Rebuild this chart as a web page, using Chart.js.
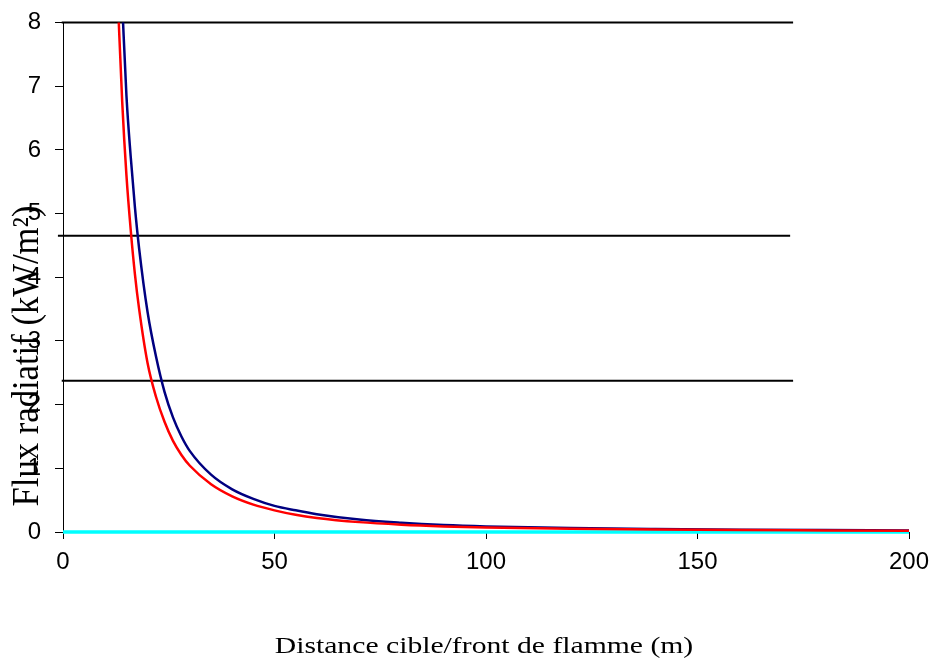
<!DOCTYPE html>
<html>
<head>
<meta charset="utf-8">
<script src="https://cdn.jsdelivr.net/npm/chart.js@4"></script>
<style>
  body { margin: 0; background: #fff; }
  canvas { display: block; }
</style>
</head>
<body>
<canvas id="chart" width="932" height="672"></canvas>
<script>
// distances (m) and radiative flux (kW/m2)
var distRed  = [13, 14, 15, 16, 17, 18, 20, 22, 24, 26, 28, 30, 35, 40, 45, 50, 55, 60, 70, 80, 90, 100, 120, 140, 160, 180, 200];
var fluxRed  = [8.3, 6.75, 5.6, 4.75, 4.05, 3.5, 2.65, 2.12, 1.73, 1.43, 1.21, 1.04, 0.75, 0.56, 0.43, 0.34, 0.27, 0.22, 0.155, 0.115, 0.088, 0.07, 0.05, 0.038, 0.03, 0.025, 0.02];
var distBlue = [14, 15, 16, 17, 18, 20, 22, 24, 26, 28, 30, 35, 40, 45, 50, 55, 60, 70, 80, 90, 100, 120, 140, 160, 180, 200];
var fluxBlue = [8.3, 6.85, 5.9, 5.1, 4.45, 3.45, 2.75, 2.2, 1.8, 1.5, 1.27, 0.9, 0.67, 0.52, 0.41, 0.34, 0.28, 0.195, 0.145, 0.11, 0.088, 0.062, 0.047, 0.037, 0.03, 0.025];

// threshold lines
var hLineY     = [8, 4.65, 2.375];
var hLineStart = [-0.3, -1.2, -0.3];
var hLineEnd   = [172.6, 171.9, 172.6];

// baseline (cyan)
var baseX = [0, 200];
var baseY = [0, 0];

var xTitle = 'Distance cible/front de flamme (m)';
var yTitle = 'Flux radiatif (kW/m\u00b2)';

const canvas = document.getElementById('chart');
var ctx = canvas.getContext('2d');

toPoints = (xs, ys) => xs.map((x, i) => ({x: x, y: ys[i]}));

var datasets = [];

datasets.push({
    data: toPoints(distRed, fluxRed),
    borderColor: '#ff0000',
    borderWidth: 2.5,
    pointRadius: 0,
    cubicInterpolationMode: 'monotone',
    order: 0
});
datasets.push({
    data: toPoints(baseX, baseY),
    borderColor: '#00ffff',
    borderWidth: 3.5,
    pointRadius: 0,
    clip: false,
    order: 1
});
datasets.push({
    data: toPoints(distBlue, fluxBlue),
    borderColor: '#000080',
    borderWidth: 2.5,
    pointRadius: 0,
    cubicInterpolationMode: 'monotone',
    order: 2
});
for (let i = 0; i < hLineY.length; i++) {
    datasets.push({
        data: [{x: hLineStart[i], y: hLineY[i]}, {x: hLineEnd[i], y: hLineY[i]}],
        borderColor: '#000000',
        borderWidth: 2,
        pointRadius: 0,
        clip: false,
        order: 3
    });
}

// axis titles drawn by hand: the original text is stretched and the y title is off-centre
var titlesPlugin = {
    id: 'axisTitles',
    afterDraw: (chart) => {
        let c = chart.ctx;
        c.save();
        c.fillStyle = '#000';
        c.textAlign = 'center';
        c.textBaseline = 'alphabetic';
        c.font = '23px "Liberation Serif", "Times New Roman", serif';
        c.translate(484, 653);
        c.scale(1.29, 1);
        c.fillText(xTitle, 0, 0);
        c.restore();

        c.save();
        c.fillStyle = '#000';
        c.textAlign = 'center';
        c.textBaseline = 'alphabetic';
        c.font = '35px "Liberation Serif", "Times New Roman", serif';
        c.translate(38, 356);
        c.rotate(-Math.PI / 2);
        c.scale(0.99, 1.08);
        c.fillText(yTitle, 0, 0);
        c.restore();
    }
};

var tickFont = { family: '"Liberation Sans", Arial, sans-serif', size: 24 };

var myChart = new Chart(ctx, {
    type: 'line',
    data: { datasets: datasets },
    options: {
        responsive: false,
        animation: false,
        layout: { padding: { top: 22.5, right: 23, left: 0, bottom: 0 } },
        plugins: {
            legend: { display: false },
            tooltip: { enabled: false }
        },
        scales: {
            x: {
                type: 'linear',
                min: 0,
                max: 200,
                ticks: { stepSize: 50, color: '#000', font: tickFont, padding: 9, maxRotation: 0 },
                grid: { drawOnChartArea: false, drawTicks: true, tickLength: 7, color: '#000' },
                border: { color: '#000', width: 1 },
                afterFit: (s) => { s.height = 140; s.paddingLeft = 0; s.paddingRight = 0; }
            },
            y: {
                min: 0,
                max: 8,
                ticks: { stepSize: 1, color: '#000', font: tickFont, padding: 14 },
                grid: { drawOnChartArea: false, drawTicks: true, tickLength: 8, color: '#000' },
                border: { color: '#000', width: 1 },
                afterFit: (s) => { s.width = 63; s.paddingTop = 0; s.paddingBottom = 0; }
            }
        }
    },
    plugins: [titlesPlugin]
});
</script>
</body>
</html>
